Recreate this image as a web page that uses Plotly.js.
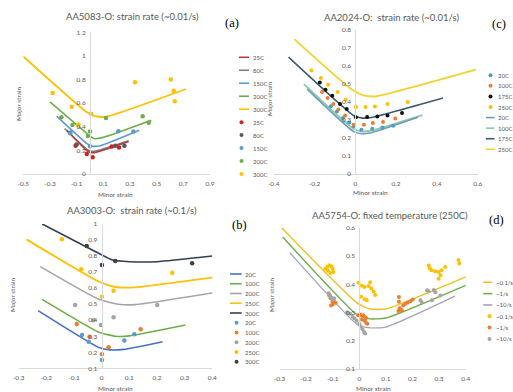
<!DOCTYPE html>
<html><head><meta charset="utf-8">
<script src="https://cdn.plot.ly/plotly-3.0.1.min.js"></script>
<style>html,body{margin:0;padding:0;background:#fff}#chart{width:513px;height:392px}</style>
</head><body><div id="chart"></div>
<script>
// ---------- Panel (a) AA5083-O ----------
const aNames = ['25C','80C','150C','200C','300C'];
const aLine25X = [-0.175,-0.02,0.01,0.05,0.29];  const aLine25Y = [0.37,0.195,0.18,0.185,0.275];
const aLine80X = [-0.19,-0.02,0.01,0.05,0.29];   const aLine80Y = [0.385,0.207,0.192,0.197,0.282];
const aLine150X = [-0.25,-0.02,0.02,0.08,0.37];  const aLine150Y = [0.49,0.255,0.235,0.24,0.37];
const aLine200X = [-0.3,-0.02,0.03,0.1,0.46];    const aLine200Y = [0.61,0.34,0.3,0.31,0.455];
const aLine300X = [-0.5,-0.02,0.04,0.12,0.72];   const aLine300Y = [0.995,0.52,0.49,0.485,0.72];
const aPt25X = [-0.108,-0.024,0.02,0.163,0.218]; const aPt25Y = [0.24,0.17,0.142,0.232,0.224];
const aPt80X = [-0.15,-0.1,0.19,0.258];          const aPt80Y = [0.35,0.25,0.24,0.24];
const aPt150X = [-0.147,0.0,0.213,0.325];        const aPt150Y = [0.345,0.235,0.363,0.36];
const aPt200X = [-0.214,-0.132,-0.016,0.0,0.12,0.395,0.44]; const aPt200Y = [0.48,0.415,0.322,0.36,0.474,0.49,0.435];
const aPt300X = [-0.28,-0.137,-0.086,0.007,0.337,0.606,0.628,0.636]; const aPt300Y = [0.687,0.569,0.42,0.51,0.777,0.8,0.706,0.617];
const aXTicks = [-0.5,-0.3,-0.1,0.1,0.3,0.5,0.7,0.9]; const aXText = ['-0.5','-0.3','-0.1','0.1','0.3','0.5','0.7','0.9'];
const aYTicks = [0,0.2,0.4,0.6,0.8,1,1.2]; const aYText = ['0','0.2','0.4','0.6','0.8','1','1.2'];

// ---------- Panel (b) AA3003-O ----------
const bNames = ['20C','100C','200C','250C','300C'];
const bLine20X = [-0.23,-0.01,0.03,0.08,0.22];   const bLine20Y = [0.46,0.23,0.215,0.218,0.266];
const bLine100X = [-0.215,-0.01,0.05,0.1,0.303]; const bLine100Y = [0.53,0.325,0.3,0.302,0.37];
const bLine200X = [-0.222,-0.01,0.06,0.12,0.405];const bLine200Y = [0.734,0.53,0.5,0.497,0.572];
const bLine250X = [-0.272,-0.01,0.05,0.12,0.405];const bLine250Y = [0.904,0.64,0.607,0.605,0.668];
const bLine300X = [-0.215,-0.02,0.04,0.1,0.2,0.4]; const bLine300Y = [1.0,0.825,0.775,0.765,0.765,0.8];
const bPt20X = [-0.071,-0.047,0.001,0.082,0.118];  const bPt20Y = [0.308,0.266,0.152,0.273,0.312];
const bPt100X = [-0.09,-0.044,0.001,0.025,0.141];  const bPt100Y = [0.376,0.297,0.188,0.231,0.343];
const bPt200X = [-0.096,-0.03,-0.003,0.043,0.201]; const bPt200Y = [0.495,0.40,0.37,0.418,0.495];
const bPt250X = [-0.144,-0.074,0.001,0.043,0.255]; const bPt250Y = [0.905,0.717,0.547,0.584,0.696];
const bPt300X = [-0.054,0.001,0.049,0.327];        const bPt300Y = [0.863,0.744,0.769,0.755];
const bXTicks = [-0.3,-0.2,-0.1,0,0.1,0.2,0.3,0.4]; const bXText = ['-0.3','-0.2','-0.1','0','0.1','0.2','0.3','0.4'];
const bYTicks = [0.1,0.2,0.3,0.4,0.5,0.6,0.7,0.8,0.9,1]; const bYText = ['0.1','0.2','0.3','0.4','0.5','0.6','0.7','0.8','0.9','1'];

// ---------- Panel (c) AA2024-O ----------
const cNames = ['20C','100C','175C','250C'];
const cLine20X = [-0.236,-0.01,0.03,0.08,0.307];  const cLine20Y = [0.47,0.235,0.222,0.228,0.313];
const cLine100X = [-0.252,-0.01,0.03,0.08,0.329]; const cLine100Y = [0.498,0.25,0.235,0.24,0.326];
const cLine175X = [-0.327,-0.01,0.03,0.08,0.43];  const cLine175Y = [0.648,0.325,0.31,0.312,0.42];
const cLine250X = [-0.299,-0.02,0.04,0.1,0.59];   const cLine250Y = [0.748,0.47,0.435,0.43,0.578];
const cPt20X = [-0.12,-0.09,-0.06,-0.03,-0.008,0.03,0.083,0.133,0.186];
const cPt20Y = [0.375,0.345,0.31,0.285,0.263,0.244,0.25,0.257,0.267];
const cPt100X = [-0.163,-0.136,-0.108,-0.083,-0.05,-0.008,0.042,0.086,0.136,0.196];
const cPt100Y = [0.454,0.42,0.387,0.356,0.324,0.272,0.272,0.281,0.287,0.306];
const cPt175X = [-0.174,-0.146,-0.113,-0.075,-0.042,0.003,0.058,0.108,0.158,0.229];
const cPt175Y = [0.507,0.467,0.433,0.387,0.359,0.313,0.315,0.318,0.324,0.337];
const cPt250X = [-0.216,-0.169,-0.133,-0.086,-0.047,0.003,0.05,0.096,0.158,0.257];
const cPt250Y = [0.574,0.531,0.494,0.454,0.411,0.37,0.37,0.374,0.387,0.398];
const cXTicks = [-0.4,-0.2,0,0.2,0.4,0.6]; const cXText = ['-0.4','-0.2','0','0.2','0.4','0.6'];
const cYTicks = [0,0.1,0.2,0.3,0.4,0.5,0.6,0.7,0.8]; const cYText = ['0','0.1','0.2','0.3','0.4','0.5','0.6','0.7','0.8'];

// ---------- Panel (d) AA5754-O ----------
const dNames = ['~0.1/s','~1/s','~10/s'];
const dLine01X = [-0.291,-0.01,0.04,0.1,0.41];  const dLine01Y = [0.6,0.335,0.312,0.312,0.43];
const dLine1X = [-0.288,-0.01,0.04,0.1,0.41];   const dLine1Y = [0.568,0.293,0.277,0.28,0.40];
const dLine10X = [-0.261,-0.005,0.04,0.1,0.36]; const dLine10Y = [0.512,0.255,0.245,0.248,0.358];
const dPt01X = [-0.128,-0.12,-0.112,-0.105,-0.1,-0.097,-0.108,-0.118,
                -0.003,0.01,0.02,0.035,0.041,0.045,0.054,0.06,0.007,0.02,0.028,
                0.261,0.265,0.271,0.285,0.298,0.305,0.298,0.31,0.323,0.373,0.376];
const dPt01Y = [0.455,0.462,0.468,0.464,0.455,0.444,0.44,0.448,
                0.405,0.395,0.39,0.394,0.407,0.385,0.374,0.362,0.356,0.347,0.343,
                0.467,0.456,0.45,0.446,0.444,0.432,0.42,0.45,0.461,0.486,0.474];
const dPt1X = [-0.113,-0.108,-0.101,-0.095,-0.089,-0.106,-0.099,
               -0.005,0.003,0.01,0.015,0.02,0.025,0.01,0.02,0.026,0.03,
               0.149,0.149,0.152,0.155,0.147,0.16,0.165,0.173,0.182,0.192,0.201];
const dPt1Y = [0.36,0.35,0.337,0.34,0.334,0.325,0.33,
               0.29,0.293,0.288,0.29,0.285,0.28,0.275,0.27,0.262,0.26,
               0.355,0.338,0.315,0.311,0.305,0.308,0.325,0.331,0.335,0.34,0.346];
const dPt10X = [-0.115,-0.11,-0.105,-0.1,-0.095,
                -0.045,-0.035,-0.025,-0.018,-0.01,0.0,0.005,0.012,0.018,0.022,
                0.23,0.235,0.255,0.26,0.28,0.286,0.273,0.305];
const dPt10Y = [0.368,0.36,0.352,0.345,0.35,
                0.301,0.295,0.285,0.278,0.27,0.26,0.25,0.24,0.23,0.225,
                0.343,0.335,0.379,0.375,0.38,0.372,0.343,0.36];
const dXTicks = [-0.3,-0.2,-0.1,0,0.1,0.2,0.3,0.4]; const dXText = ['-0.3','-0.2','-0.1','0','0.1','0.2','0.3','0.4'];
const dYTicks = [0.1,0.2,0.3,0.4,0.5,0.6]; const dYText = ['0.1','0.2','0.3','0.4','0.5','0.6'];

// ---------- helpers ----------
const W = 513, H = 392;
const fx = p => p / W, fy = p => 1 - p / H;
const FONT = 'Lato, "Open Sans", sans-serif';
const GREY = '#595959';
const traces = [];
function line(ax, x, y, color, width) {
  traces.push({type:'scatter', mode:'lines', x:x, y:y, xaxis:'x'+ax, yaxis:'y'+ax,
    line:{color:color, width:width, shape:'spline', smoothing:0.5}, hoverinfo:'skip'});
}
function pts(ax, x, y, color, size) {
  traces.push({type:'scatter', mode:'markers', x:x, y:y, xaxis:'x'+ax, yaxis:'y'+ax,
    marker:{color:color, size:size||4.5, line:{width:0}}, hoverinfo:'skip'});
}
const layout = {width:W, height:H, margin:{l:0,r:0,t:0,b:0}, showlegend:false,
  paper_bgcolor:'#ffffff', plot_bgcolor:'rgba(0,0,0,0)', annotations:[], shapes:[]};
function axes(ax, pxL, pxR, pyB, pyT, xr, yr, xt, xtt, yt, ytt) {
  const xd = [fx(pxL), fx(pxR)], yd = [fy(pyB), fy(pyT)];
  const pos = xd[0] + (0 - xr[0]) / (xr[1] - xr[0]) * (xd[1] - xd[0]);
  const k = ax;
  layout['xaxis'+k] = {domain:xd, range:xr, anchor:'y'+k, tickvals:xt, ticktext:xtt,
    showgrid:false, zeroline:false, showline:true, linecolor:'#d9d9d9', linewidth:1, ticks:'',
    tickfont:{family:FONT, size:6.5, color:GREY}, ticklabelstandoff:3, fixedrange:true};
  layout['yaxis'+k] = {domain:yd, range:yr, anchor:'free', position:pos, tickvals:yt, ticktext:ytt,
    showgrid:false, zeroline:false, showline:true, linecolor:'#d9d9d9', linewidth:1, ticks:'',
    tickfont:{family:FONT, size:6.5, color:GREY}, ticklabelstandoff:3, fixedrange:true};
}
function text(t, px, py, size, opts) {
  layout.annotations.push(Object.assign({text:t, x:fx(px), y:fy(py), xref:'paper', yref:'paper',
    showarrow:false, font:{family:FONT, size:size, color:GREY}, xanchor:'center', yanchor:'middle'}, opts||{}));
}
function legend(items, lx0, lx1, dotX, tx, y0, dy, fs) {
  items.forEach((it, i) => {
    const py = y0 + i * dy;
    if (it.kind === 'line') {
      layout.shapes.push({type:'line', xref:'paper', yref:'paper', x0:fx(lx0), x1:fx(lx1), y0:fy(py), y1:fy(py),
        line:{color:it.color, width:it.w||1.6}});
    } else {
      const r = 2;
      layout.shapes.push({type:'circle', xref:'paper', yref:'paper', x0:fx(dotX-r), x1:fx(dotX+r),
        y0:fy(py+r), y1:fy(py-r), fillcolor:it.color, line:{width:0}});
    }
    text(it.name, tx, py, fs||6, {xanchor:'left'});
  });
}

// ---------- Panel (a) ----------
const aLineC = ['#b23b3b','#808080','#5b9bd5','#70ad47','#ffc000'];
const aPtC = ['#d42020','#595959','#5b9bd5','#70ad47','#ffc000'];
axes('', 23.3, 210, 174, 32.3, [-0.5,0.9], [0,1.2], aXTicks, aXText, aYTicks, aYText);
line('', aLine80X, aLine80Y, aLineC[1], 1.6);
line('', aLine25X, aLine25Y, aLineC[0], 1.6);
line('', aLine150X, aLine150Y, aLineC[2], 1.6);
line('', aLine200X, aLine200Y, aLineC[3], 1.6);
line('', aLine300X, aLine300Y, aLineC[4], 1.8);
pts('', aPt25X, aPt25Y, aPtC[0]); pts('', aPt80X, aPt80Y, aPtC[1]); pts('', aPt150X, aPt150Y, aPtC[2]);
pts('', aPt200X, aPt200Y, aPtC[3]); pts('', aPt300X, aPt300Y, aPtC[4]);
text('AA5083-O: strain rate (~0.01/s)', 132, 16, 9.5);
text('(a)', 232, 23, 12.5, {font:{family:'"Liberation Serif", serif', size:12.5, color:'#000'}});
text('Major strain', 18, 104, 6.5, {textangle:-90});
text('Minor strain', 115, 194, 6.5);
legend(aNames.map((n,i)=>({kind:'line', name:n, color:aLineC[i]})).concat(
       aNames.map((n,i)=>({kind:'dot', name:n, color:aPtC[i]}))), 239, 249, 241.5, 250.5, 57.3, 12.97);

// ---------- Panel (b) ----------
const bLineC = ['#4472c4','#70ad47','#a5a5a5','#ffc000','#333f50'];
const bPtC = ['#5b9bd5','#ed7d31','#a5a5a5','#ffc000','#404040'];
axes('2', 18.7, 212.3, 368.3, 224, [-0.3,0.4], [0.1,1], bXTicks, bXText, bYTicks, bYText);
line('2', bLine20X, bLine20Y, bLineC[0], 1.6);
line('2', bLine100X, bLine100Y, bLineC[1], 1.6);
line('2', bLine200X, bLine200Y, bLineC[2], 1.6);
line('2', bLine250X, bLine250Y, bLineC[3], 1.8);
line('2', bLine300X, bLine300Y, bLineC[4], 1.6);
pts('2', bPt20X, bPt20Y, bPtC[0]); pts('2', bPt100X, bPt100Y, bPtC[1]); pts('2', bPt200X, bPt200Y, bPtC[2]);
pts('2', bPt250X, bPt250Y, bPtC[3]); pts('2', bPt300X, bPt300Y, bPtC[4]);
text('AA3003-O:  strain rate (~0.1/s)', 132, 210.7, 9.5);
text('(b)', 239, 225, 12.5, {font:{family:'"Liberation Serif", serif', size:12.5, color:'#000'}});
text('Major strain', 12, 295, 6.5, {textangle:-90});
text('Minor strain', 115, 388, 6.5);
legend(bNames.map((n,i)=>({kind:'line', name:n, color:bLineC[i]})).concat(
       bNames.map((n,i)=>({kind:'dot', name:n, color:bPtC[i]}))), 230, 241.7, 236.5, 243.3, 274, 9.75);

// ---------- Panel (c) ----------
const cLineC = ['#6a9bc3','#8cc9a8','#3c5a7a','#f2d22e'];
const cPtC = ['#4f9fc4','#ed7d31','#111111','#ffc000'];
axes('3', 273.7, 477.7, 173.7, 29.7, [-0.4,0.6], [0,0.8], cXTicks, cXText, cYTicks, cYText);
line('3', cLine100X, cLine100Y, cLineC[1], 1.8);
line('3', cLine20X, cLine20Y, cLineC[0], 1.6);
line('3', cLine175X, cLine175Y, cLineC[2], 1.6);
line('3', cLine250X, cLine250Y, cLineC[3], 1.8);
pts('3', cPt20X, cPt20Y, cPtC[0], 4); pts('3', cPt100X, cPt100Y, cPtC[1], 4);
pts('3', cPt175X, cPt175Y, cPtC[2], 4); pts('3', cPt250X, cPt250Y, cPtC[3], 4);
text('AA2024-O:  strain rate (~0.01/s)', 391.7, 17, 9.5);
text('(c)', 499, 24, 12.5, {font:{family:'"Liberation Serif", serif', size:12.5, color:'#000'}});
text('Major strain', 270, 99, 6.5, {textangle:-90});
text('Minor strain', 370, 192, 6.5);
legend(cNames.map((n,i)=>({kind:'dot', name:n, color:cPtC[i]})).concat(
       cNames.map((n,i)=>({kind:'line', name:n, color:cLineC[i]}))), 486, 494.5, 490.5, 496, 75.3, 10.57, 6);

// ---------- Panel (d) ----------
const dLineC = ['#f0c020','#70ad47','#a3a3b8'];
const dPtC = ['#ffc000','#ed7d31','#a5a5a5'];
axes('4', 279.5, 465.7, 368.7, 228, [-0.3,0.4], [0.1,0.6], dXTicks, dXText, dYTicks, dYText);
line('4', dLine01X, dLine01Y, dLineC[0], 1.4);
line('4', dLine1X, dLine1Y, dLineC[1], 1.4);
line('4', dLine10X, dLine10Y, dLineC[2], 1.2);
pts('4', dPt01X, dPt01Y, dPtC[0], 4); pts('4', dPt1X, dPt1Y, dPtC[1], 4); pts('4', dPt10X, dPt10Y, dPtC[2], 4);
text('AA5754-O: fixed temperature (250C)', 390, 215, 9.5);
text('(d)', 496, 220, 12.5, {font:{family:'"Liberation Serif", serif', size:12.5, color:'#000'}});
text('Major strain', 271, 295, 6.5, {textangle:-90});
text('Minor strain', 373, 388, 6.5);
legend(dNames.map((n,i)=>({kind:'line', name:n, color:dLineC[i]})).concat(
       dNames.map((n,i)=>({kind:'dot', name:n, color:dPtC[i]}))), 483.3, 492.3, 489.5, 493.7, 282.3, 11.33, 6);

Plotly.newPlot('chart', traces, layout, {staticPlot:true, displayModeBar:false});
</script>
</body></html>
